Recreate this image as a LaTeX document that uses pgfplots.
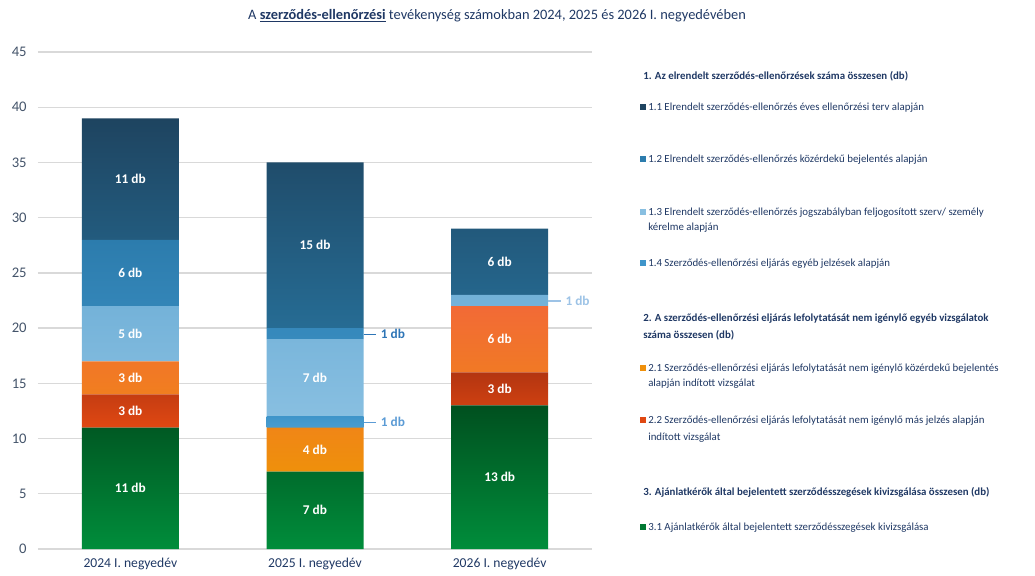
\documentclass[border=0pt]{standalone}
\usepackage{pgfplots}
\pgfplotsset{compat=1.18}
\usepackage{pgfplotstable}
\usepackage{fontspec}
\setmainfont{Carlito}

\definecolor{navy}{HTML}{1F3864}
\definecolor{slate}{HTML}{44546A}
\definecolor{gridc}{HTML}{D9D9D9}
% segment colours: top / bottom of each gradient
\definecolor{c11t}{HTML}{1E4460}
\definecolor{c11b}{HTML}{266C94}
\definecolor{c12t}{HTML}{2C7CAD}
\definecolor{c12b}{HTML}{378ABD}
\definecolor{c13t}{HTML}{72B1D8}
\definecolor{c13b}{HTML}{88BFE1}
\definecolor{c14t}{HTML}{3F95CA}
\definecolor{c14b}{HTML}{4A9DD0}
\definecolor{c21t}{HTML}{F26A36}
\definecolor{c21b}{HTML}{EF900B}
\definecolor{c22t}{HTML}{B33511}
\definecolor{c22b}{HTML}{E04812}
\definecolor{c31t}{HTML}{00501F}
\definecolor{c31b}{HTML}{008D3B}
% colours of the "1 db" call-outs
\definecolor{one12}{HTML}{2E75B6}
\definecolor{one14}{HTML}{5B9BD5}
\definecolor{one13}{HTML}{9DC3E6}

% 0 = 2024, 1 = 2025, 2 = 2026 (I. negyedév)
\pgfplotstableread{
x  g   r  o  b14 b13 b12 b11
0  11  3  3  0   5   6   11
1  7   0  4  1   7   1   15
2  13  3  6  0   1   0   6
}\counts

\pgfplotsset{
  seg/.style n args={4}{
    draw=none, top color=#1, middle color=#2, bottom color=#3,
    visualization depends on={\thisrow{#4} \as \segval},
  },
  % labels sit in the middle of each segment; 1 db goes outside with a leader
  seglab/.style={
    nodes near coords={%
      \pgfmathtruncatemacro\segv{\segval}%
      \ifnum\segv>1 \segv~db\else\ifnum\segv=1
        \makebox[0pt][l]{\hspace{36.4pt}\textcolor{#1}{\rule[2.4pt]{9.5pt}{1.1pt}\hspace{3.5pt}1~db}}\fi\fi},
    every node near coord/.append style={
      anchor=center, text=white, font=\bfseries\fontsize{10}{12}\selectfont},
  },
}

\newcommand{\legfont}{\fontsize{8.15}{10}\selectfont}
\newcommand{\legitem}[3]{%
  \fill[#2] (639.5,#1-3) rectangle (645.5,#1+3);
  \node[anchor=base west, inner sep=0, font=\legfont, text=navy] at (648,#1+3.5) {#3};}
\newcommand{\legline}[2]{%
  \node[anchor=base west, inner sep=0, font=\legfont, text=navy] at (648,#1+3.5) {#2};}
\newcommand{\leghead}[2]{%
  \node[anchor=base west, inner sep=0, font=\legfont\bfseries, text=navy] at (643,#1+3.5) {#2};}

\begin{document}
\begin{tikzpicture}
\begin{scope}[x=0.75pt, y=-0.75pt]
  \coordinate (plotsw) at (38,549);
  \node[font=\fontsize{10.8}{12}\selectfont, text=navy] at (497,16)
    {A \underline{\textbf{szerződés-ellenőrzési}} tevékenység számokban 2024, 2025 és 2026 I. negyedévében};

  \leghead{76}{1. Az elrendelt szerződés-ellenőrzések száma összesen (db)}
  \legitem{107}{c11t}{1.1 Elrendelt szerződés-ellenőrzés éves ellenőrzési terv alapján}
  \legitem{159}{c12t}{1.2 Elrendelt szerződés-ellenőrzés közérdekű bejelentés alapján}
  \legitem{212}{c13b}{1.3 Elrendelt szerződés-ellenőrzés jogszabályban feljogosított szerv/ személy}
  \legline{227}{kérelme alapján}
  \legitem{263}{c14t}{1.4 Szerződés-ellenőrzési eljárás egyéb jelzések alapján}
  \leghead{318}{2. A szerződés-ellenőrzési eljárás lefolytatását nem igénylő egyéb vizsgálatok}
  \leghead{335}{száma összesen (db)}
  \legitem{368}{c21b}{2.1 Szerződés-ellenőrzési eljárás lefolytatását nem igénylő közérdekű bejelentés}
  \legline{383}{alapján indított vizsgálat}
  \legitem{420}{c22b}{2.2 Szerződés-ellenőrzési eljárás lefolytatását nem igénylő más jelzés alapján}
  \legline{437}{indított vizsgálat}
  \leghead{492}{3. Ajánlatkérők által bejelentett szerződésszegések kivizsgálása összesen (db)}
  \legitem{527}{c31b!85!black}{3.1 Ajánlatkérők által bejelentett szerződésszegések kivizsgálása}
\end{scope}

\begin{axis}[
  at={(plotsw)}, anchor=south west,
  scale only axis, width=415.5pt, height=372.75pt,
  xmin=-0.5, xmax=2.5, ymin=0, ymax=45,
  ybar stacked, bar width=72.75pt,
  xtick={0,1,2},
  xticklabels={2024 I. negyedév,2025 I. negyedév,2026 I. negyedév},
  ytick={0,5,...,45},
  ymajorgrids, grid style={gridc, line width=1pt},
  axis line style={draw=none}, major tick length=0pt,
  /pgf/number format/assume math mode=true,
  yticklabel style={font=\fontsize{11}{13}\selectfont, text=slate, xshift=-5pt},
  xticklabel style={font=\fontsize{10.2}{12}\selectfont, text=navy, yshift=-3pt},
  clip=false,
]
\addplot[seg={c31t}{c31t!50!c31b}{c31b}{g}, seglab=white] table[x=x, y=g] {\counts};
\addplot[seg={c22t}{c22t!50!c22b}{c22b}{r}, seglab=white] table[x=x, y=r] {\counts};
\addplot[seg={c21t}{c21t!50!c21b}{c21b}{o}, seglab=white] table[x=x, y=o] {\counts};
\addplot[seg={c14t}{c14t!50!c14b}{c14b}{b14}, seglab=one14] table[x=x, y=b14] {\counts};
\addplot[seg={c13t}{c13t!50!c13b}{c13b}{b13}, seglab=one13] table[x=x, y=b13] {\counts};
\addplot[seg={c12t}{c12t!50!c12b}{c12b}{b12}, seglab=one12] table[x=x, y=b12] {\counts};
\addplot[seg={c11t}{c11t}{c11b}{b11}, seglab=one12] table[x=x, y=b11] {\counts};
\end{axis}

\pgfresetboundingbox
\begin{scope}[x=0.75pt, y=-0.75pt]
  \path (0,0) rectangle (1035,575);
\end{scope}
\end{tikzpicture}
\end{document}
